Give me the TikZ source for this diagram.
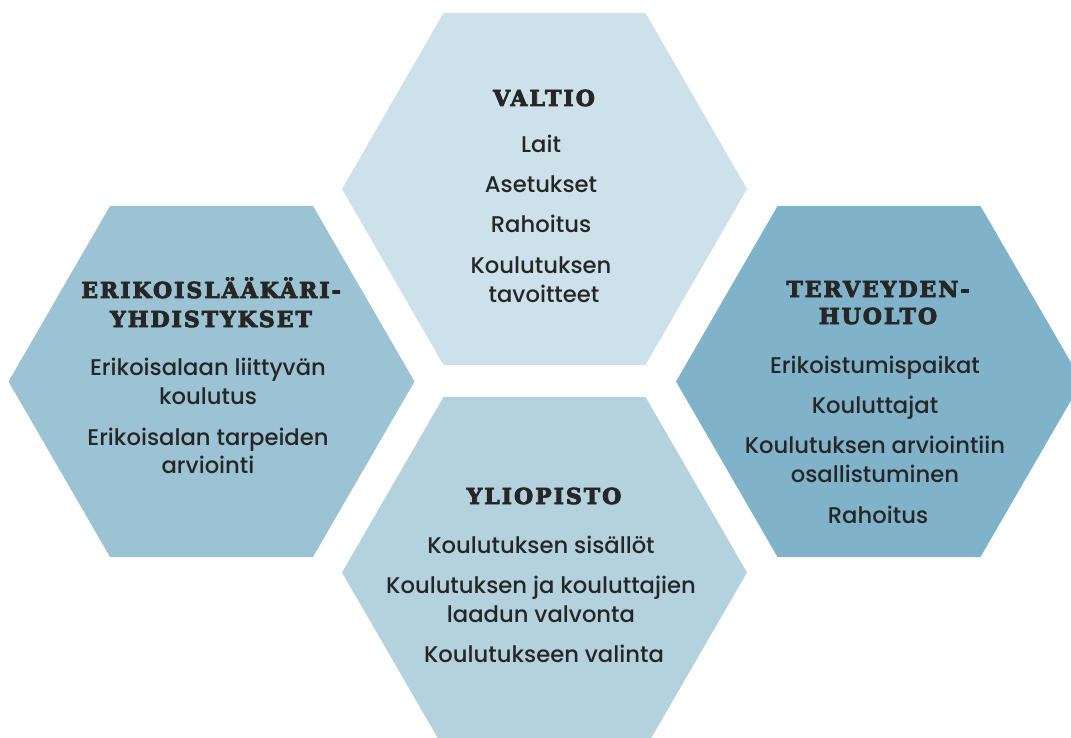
\documentclass[tikz,border=0pt]{standalone}
\usepackage{fontspec}
\setmainfont{Poppins Medium}
\newfontfamily\titlefont[LetterSpace=9,FakeBold=4]{DejaVu Serif}
\definecolor{hexA}{HTML}{CDE1EA}
\definecolor{hexB}{HTML}{9BC3D4}
\definecolor{hexC}{HTML}{80B3C9}
\definecolor{hexD}{HTML}{B3D2DE}
\definecolor{txt}{HTML}{262626}
\tikzset{
  ttl/.style={anchor=base, inner sep=0pt, text=txt, font=\titlefont\bfseries\fontsize{22}{24}\selectfont},
  itm/.style={anchor=base, inner sep=0pt, text=txt, font=\fontsize{22.7}{26}\selectfont},
}
\begin{document}
\begin{tikzpicture}[x=1pt,y=-1pt]
\useasboundingbox (0,0) rectangle (1071,738);
\begin{scope}
\clip (0,0) rectangle (1071,738);
\fill[hexA] (747,189) -- (645.5,13) -- (443.5,13) -- (342,189) -- (443.5,365) -- (645.5,365) -- cycle;
\fill[hexB] (414.5,381.5) -- (313,206) -- (110,206) -- (8.5,381.5) -- (110,557) -- (313,557) -- cycle;
\fill[hexC] (1082,381.5) -- (980.5,206) -- (777.5,206) -- (676,381.5) -- (777.5,557) -- (980.5,557) -- cycle;
\fill[hexD] (747,572.5) -- (645.5,397) -- (443.5,397) -- (342,572.5) -- (443.5,748) -- (645.5,748) -- cycle;
\end{scope}
% VALTIO
\node[ttl] (t1) at (544,106) {VALTIO};
\node[itm] (a1) at (541,153) {Lait};
\node[itm] (a2) at (541,193) {Asetukset};
\node[itm] (a3) at (541,233) {Rahoitus};
\node[itm] (a4) at (541,273) {Koulutuksen};
\node[itm] (a5) at (544,302) {tavoitteet};
% ERIKOISLÄÄKÄRIYHDISTYKSET
\node[ttl] (t2) at (211,298) {ERIKOISLÄÄKÄRI-};
\node[ttl] (t2b) at (211,327) {YHDISTYKSET};
\node[itm] (b1) at (208,375) {Erikoisalaan liittyvän};
\node[itm] (b2) at (208,404) {koulutus};
\node[itm] (b3) at (208,445) {Erikoisalan tarpeiden};
\node[itm] (b4) at (208,473) {arviointi};
% TERVEYDENHUOLTO
\node[ttl] (t3) at (878,297) {TERVEYDEN-};
\node[ttl] (t3b) at (878,324) {HUOLTO};
\node[itm] (c1) at (875,373) {Erikoistumispaikat};
\node[itm] (c2) at (875,413) {Kouluttajat};
\node[itm] (c3) at (875,453) {Koulutuksen arviointiin};
\node[itm] (c4) at (875,482) {osallistuminen};
\node[itm] (c5) at (878,523) {Rahoitus};
% YLIOPISTO
\node[ttl] (t4) at (544,504) {YLIOPISTO};
\node[itm] (d1) at (541,553) {Koulutuksen sisällöt};
\node[itm] (d2) at (541,593) {Koulutuksen ja kouluttajien};
\node[itm] (d3) at (541,622) {laadun valvonta};
\node[itm] (d4) at (544,662) {Koulutukseen valinta};
\end{tikzpicture}
\end{document}
